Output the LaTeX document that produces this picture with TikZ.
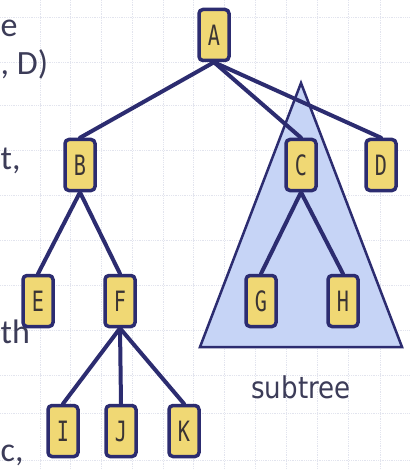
\documentclass[tikz,border=0pt]{standalone}
\usepackage{fontspec}
\newfontfamily\lblfont{DejaVu Sans Mono}
\newfontfamily\subfont{DejaVu Sans}
\newfontfamily\fragfont{Carlito}
\definecolor{navy}{HTML}{2C2C70}
\definecolor{boxfill}{HTML}{F0D874}
\definecolor{trifill}{HTML}{C6D4F6}
\definecolor{gridc}{HTML}{E2E4EE}
\definecolor{txt}{HTML}{3C3C58}
\definecolor{lbl}{HTML}{3A3434}
\tikzset{
  treebox/.style={draw=navy, line width=3.5pt, fill=boxfill, rounded corners=4pt,
    minimum width=30pt, minimum height=51pt, inner sep=0pt,
    font=\lblfont\fontsize{28}{28}\selectfont, text=lbl},
  edge/.style={draw=navy, line width=4pt, line cap=round},
  frag/.style={anchor=base west, inner sep=0pt, text=txt, font=\fragfont\fontsize{34}{34}\selectfont}
}
\newcommand{\lbl}[1]{\scalebox{0.72}[1]{#1}}
\begin{document}
\begin{tikzpicture}[x=1pt,y=-1pt]
\useasboundingbox (0,0) rectangle (409,470);
\fill[white] (0,0) rectangle (409,470);
% faint grid
\foreach \gx in {40,70,101,132,163,193,224,255,286,317,348,380}
  \draw[gridc, densely dotted, line width=0.8pt] (\gx,0) -- (\gx,470);
\foreach \gy in {17,62,105,150,195,240,285,330,375,413,460}
  \draw[gridc, densely dotted, line width=0.8pt] (0,\gy) -- (409,\gy);
% text fragments at left edge
\node[frag] (f1) at (0.5,37) {e};
\node[frag] (f2) at (0.5,75) {, D)};
\node[frag] (f3) at (0.5,170) {t,};
\node[frag] (f4) at (0.5,343) {th};
\node[frag] (f5) at (0.5,461) {c,};
% subtree triangle
\coordinate (tt) at (301,83);
\coordinate (tl) at (200,347);
\coordinate (tr) at (402,347);
\draw[navy, line width=2.5pt, fill=trifill, line join=miter] (tt) -- (tl) -- (tr) -- cycle;
\node[anchor=base, inner sep=0pt, text=txt, font=\subfont\fontsize{30}{30}\selectfont] (st) at (301,398) {\scalebox{0.87}[1]{subtree}};
% nodes
\node[treebox] (A) at (214,35) {\lbl{A}};
\node[treebox] (B) at (80,165) {\lbl{B}};
\node[treebox] (C) at (301,165) {\lbl{C}};
\node[treebox] (D) at (381,165) {\lbl{D}};
\node[treebox] (E) at (38,301) {\lbl{E}};
\node[treebox] (F) at (120,301) {\lbl{F}};
\node[treebox] (G) at (261,301) {\lbl{G}};
\node[treebox] (H) at (343,301) {\lbl{H}};
\node[treebox] (I) at (63,431) {\lbl{I}};
\node[treebox] (J) at (121,431) {\lbl{J}};
\node[treebox] (K) at (184,431) {\lbl{K}};
% edges
\foreach \p/\c in {A/B,A/C,A/D,B/E,B/F,C/G,C/H,F/I,F/J,F/K}
  \draw[edge] (\p.south) -- (\c.north);
\end{tikzpicture}
\end{document}
